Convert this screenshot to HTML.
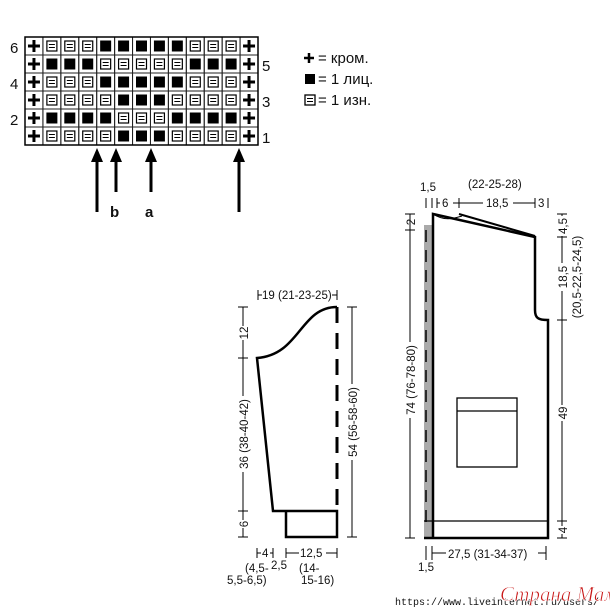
<!DOCTYPE html>
<html><head><meta charset="utf-8"><style>
body{margin:0;background:#fff}
svg{display:block}
text{font-family:"Liberation Sans",sans-serif;fill:#111}
</style></head><body>
<svg width="610" height="610" viewBox="0 0 610 610" xmlns="http://www.w3.org/2000/svg">
<g id="cells"></g>
<g font-size="15">
<text x="10" y="53">6</text><text x="10" y="89">4</text><text x="10" y="125">2</text>
<text x="262" y="71">5</text><text x="262" y="107">3</text><text x="262" y="143">1</text>
</g>
<g stroke="#000" stroke-width="3" fill="#000">
<line x1="97" y1="212" x2="97" y2="160"/><polygon points="91,162 103,162 97,148" stroke="none"/>
<line x1="116" y1="192" x2="116" y2="160"/><polygon points="110,162 122,162 116,148" stroke="none"/>
<line x1="151" y1="192" x2="151" y2="160"/><polygon points="145,162 157,162 151,148" stroke="none"/>
<line x1="239" y1="212" x2="239" y2="160"/><polygon points="233,162 245,162 239,148" stroke="none"/>
</g>
<text x="110" y="217" font-size="15" font-weight="bold">b</text>
<text x="145" y="217" font-size="15" font-weight="bold">a</text>
<g font-size="15">
<line x1="304" y1="58" x2="314" y2="58" stroke="#000" stroke-width="2.5"/><line x1="309" y1="53" x2="309" y2="63" stroke="#000" stroke-width="2.5"/>
<text x="318" y="63">= кром.</text>
<rect x="305" y="74" width="10" height="10" fill="#000"/>
<text x="318" y="84">= 1 лиц.</text>
<rect x="305" y="95" width="10" height="10" fill="#fff" stroke="#000" stroke-width="1.3"/><line x1="307" y1="98.5" x2="313" y2="98.5" stroke="#000"/><line x1="307" y1="101.5" x2="313" y2="101.5" stroke="#000"/>
<text x="318" y="105">= 1 изн.</text>
</g>
<g fill="none" stroke="#000" stroke-width="2.5">
<path d="M337,307 C300,307 300,355 257,358 L273,511 L286,511 L286,537 L337,537 L337,511 L286,511"/>
<line x1="337" y1="307" x2="337" y2="511" stroke-dasharray="16,10" stroke-width="3"/>
</g>
<g stroke="#000" stroke-width="1" fill="none">
<line x1="258" y1="295" x2="337" y2="295"/><line x1="258" y1="290" x2="258" y2="300"/><line x1="337" y1="290" x2="337" y2="300"/>
<line x1="243" y1="307" x2="243" y2="537"/>
<line x1="238" y1="307" x2="248" y2="307"/><line x1="238" y1="358" x2="248" y2="358"/><line x1="238" y1="511" x2="248" y2="511"/><line x1="238" y1="537" x2="248" y2="537"/>
<line x1="352" y1="307" x2="352" y2="537"/><line x1="347" y1="307" x2="357" y2="307"/><line x1="347" y1="537" x2="357" y2="537"/>
<line x1="257" y1="553" x2="273" y2="553"/><line x1="257" y1="548" x2="257" y2="558"/><line x1="273" y1="548" x2="273" y2="558"/>
<line x1="286" y1="553" x2="337" y2="553"/><line x1="286" y1="548" x2="286" y2="558"/><line x1="337" y1="548" x2="337" y2="558"/>
</g>
<g font-size="11.5">
<rect x="262" y="288" width="70" height="14" fill="#fff"/><text x="262" y="299">19 (21-23-25)</text>
<g transform="translate(248,333) rotate(-90)"><rect x="-7" y="-10" width="14" height="12" fill="#fff"/><text text-anchor="middle">12</text></g>
<g transform="translate(248,434) rotate(-90)"><rect x="-38" y="-10" width="76" height="12" fill="#fff"/><text text-anchor="middle">36 (38-40-42)</text></g>
<g transform="translate(248,524) rotate(-90)"><rect x="-4" y="-10" width="8" height="12" fill="#fff"/><text text-anchor="middle">6</text></g>
<g transform="translate(357,422) rotate(-90)"><rect x="-38" y="-10" width="76" height="12" fill="#fff"/><text text-anchor="middle">54 (56-58-60)</text></g>
<rect x="261" y="546" width="9" height="13" fill="#fff"/><text x="262" y="557">4</text>
<text x="271" y="569">2,5</text>
<rect x="299" y="546" width="27" height="13" fill="#fff"/><text x="300" y="557">12,5</text>
<text x="245" y="572">(4,5-</text><text x="227" y="584">5,5-6,5)</text>
<text x="299" y="572">(14-</text><text x="301" y="584">15-16)</text>
</g>
<rect x="424" y="225" width="8" height="313" fill="#aaa"/>
<line x1="426" y1="230" x2="426" y2="530" stroke="#000" stroke-width="1.5" stroke-dasharray="12,8"/>
<g fill="none" stroke="#000" stroke-width="2.5">
<path d="M433,538 L433,214 L535,237 L535,310 C535,318 538,320 548,320 L548,538 L424,538"/>
<line x1="459" y1="214" x2="535" y2="236" stroke-width="2"/>
</g>
<path d="M433,214 C445,222 455,218 462,216" fill="none" stroke="#000" stroke-width="1"/>
<g fill="none" stroke="#000" stroke-width="1.3">
<line x1="424" y1="521" x2="548" y2="521"/>
<rect x="457" y="398" width="60" height="69"/><line x1="457" y1="411" x2="517" y2="411"/>
</g>
<g stroke="#000" stroke-width="1" fill="none">
<line x1="426" y1="198" x2="426" y2="208"/><line x1="432" y1="198" x2="432" y2="208"/>
<line x1="437" y1="203" x2="459" y2="203"/><line x1="437" y1="198" x2="437" y2="208"/><line x1="459" y1="198" x2="459" y2="208"/>
<line x1="459" y1="203" x2="535" y2="203"/><line x1="535" y1="198" x2="535" y2="208"/><line x1="548" y1="198" x2="548" y2="208"/>
<line x1="410" y1="214" x2="410" y2="538"/><line x1="405" y1="214" x2="415" y2="214"/><line x1="405" y1="230" x2="415" y2="230"/><line x1="405" y1="538" x2="415" y2="538"/>
<line x1="562" y1="214" x2="562" y2="538"/>
<line x1="557" y1="214" x2="567" y2="214"/><line x1="557" y1="237" x2="567" y2="237"/><line x1="557" y1="320" x2="567" y2="320"/><line x1="557" y1="521" x2="567" y2="521"/><line x1="557" y1="538" x2="567" y2="538"/>
<line x1="426" y1="546" x2="426" y2="560"/><line x1="432" y1="546" x2="432" y2="560"/>
<line x1="432" y1="553" x2="546" y2="553"/><line x1="546" y1="546" x2="546" y2="560"/>
</g>
<g font-size="11.5">
<text x="420" y="191">1,5</text><text x="468" y="188">(22-25-28)</text>
<rect x="440" y="196" width="13" height="13" fill="#fff"/><text x="442" y="207">6</text>
<rect x="483" y="196" width="30" height="13" fill="#fff"/><text x="486" y="207">18,5</text>
<rect x="538" y="196" width="8" height="13" fill="#fff"/><text x="538" y="207">3</text>
<g transform="translate(415,222) rotate(-90)"><text text-anchor="middle">2</text></g>
<g transform="translate(415,380) rotate(-90)"><rect x="-38" y="-10" width="76" height="12" fill="#fff"/><text text-anchor="middle">74 (76-78-80)</text></g>
<g transform="translate(567,226) rotate(-90)"><rect x="-10" y="-10" width="20" height="12" fill="#fff"/><text text-anchor="middle">4,5</text></g>
<g transform="translate(567,277) rotate(-90)"><rect x="-14" y="-10" width="28" height="12" fill="#fff"/><text text-anchor="middle">18,5</text></g>
<g transform="translate(581,277) rotate(-90)"><text text-anchor="middle">(20,5-22,5-24,5)</text></g>
<g transform="translate(567,413) rotate(-90)"><rect x="-8" y="-10" width="16" height="12" fill="#fff"/><text text-anchor="middle">49</text></g>
<g transform="translate(567,530) rotate(-90)"><rect x="-4" y="-10" width="8" height="12" fill="#fff"/><text text-anchor="middle">4</text></g>
<text x="418" y="571">1,5</text>
<rect x="446" y="546" width="92" height="14" fill="#fff"/><text x="448" y="558">27,5 (31-34-37)</text>
</g>
<text x="395" y="605" font-size="10" style="font-family:'Liberation Mono',monospace">https://www.liveinternet.ru/users/</text>
<text x="500" y="601" font-style="italic" font-size="21" style="font-family:'Liberation Serif',serif;fill:#c81818;stroke:#fff;stroke-width:0.6">Страна Мам</text>
</svg>
<script>
const rows=["+iiikkkkkiii+","+kkkiiiiikkk+","+iiikkkkkiii+","+iiiikkkiiii+","+kkkkiiikkkk+","+iiiikkkiiii+"];
const ns="http://www.w3.org/2000/svg",g=document.getElementById("cells");
const x0=25,y0=37,cw=233/13,rh=18;
function el(t,a){const e=document.createElementNS(ns,t);for(const k in a)e.setAttribute(k,a[k]);g.appendChild(e);return e;}
el("rect",{x:x0,y:y0,width:233,height:108,fill:"#fff"});
rows.forEach((r,ri)=>{[...r].forEach((c,ci)=>{const x=x0+ci*cw,y=y0+ri*rh;
el("rect",{x:x,y:y,width:cw,height:rh,fill:"none",stroke:"#222","stroke-width":1});
const cx=x+cw/2,cy=y+rh/2;
if(c=="+"){el("line",{x1:cx-6,y1:cy,x2:cx+6,y2:cy,stroke:"#000","stroke-width":3});el("line",{x1:cx,y1:cy-6,x2:cx,y2:cy+6,stroke:"#000","stroke-width":3});}
else if(c=="k"){el("rect",{x:cx-5.5,y:cy-5.5,width:11,height:11,fill:"#000"});}
else{el("rect",{x:cx-5,y:cy-5,width:10,height:10,fill:"#fff",stroke:"#000","stroke-width":1.2});el("line",{x1:cx-3,y1:cy-1.5,x2:cx+3,y2:cy-1.5,stroke:"#000","stroke-width":1});el("line",{x1:cx-3,y1:cy+1.5,x2:cx+3,y2:cy+1.5,stroke:"#000","stroke-width":1});}
});});
el("rect",{x:x0,y:y0,width:233,height:108,fill:"none",stroke:"#000","stroke-width":1.5});
</script>
</body></html>
